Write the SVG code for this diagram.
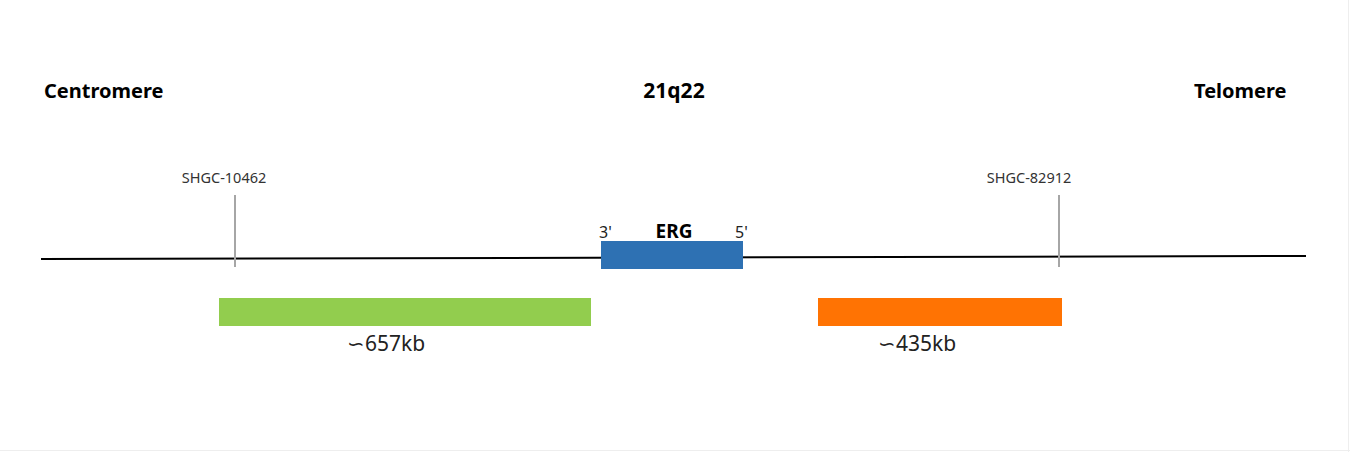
<svg xmlns="http://www.w3.org/2000/svg" width="1350" height="452" viewBox="0 0 1350 452">
<style>
.t{font-family:"Noto Sans","Open Sans",sans-serif;fill:#000}
.h{font-size:20px;font-weight:bold}
.m{font-size:14.5px;fill:#333}
.p{font-size:16px;fill:#222}
.k{font-size:21px;fill:#222}
.tick{stroke:#a6a6a6;stroke-width:2}
</style>
<rect width="1350" height="452" fill="#fff"/>
<line x1="1348.5" y1="0" x2="1348.5" y2="452" stroke="#eeeeee" stroke-width="1"/>
<line x1="0" y1="450.5" x2="1350" y2="450.5" stroke="#eeeeee" stroke-width="1"/>
<g id="labels">
<text class="t h" x="44" y="98">Centromere</text>
<text class="t h" x="674" y="98" text-anchor="middle" style="font-size:21px">21q22</text>
<text class="t h" x="1194" y="98">Telomere</text>
</g>
<g id="connectors">
<line x1="41" y1="259" x2="1306" y2="256" stroke="#000" stroke-width="2"/>
<line class="tick" x1="235" y1="195" x2="235" y2="267"/>
<line class="tick" x1="1059" y1="195" x2="1059" y2="267"/>
</g>
<g id="marker-SHGC-10462">
<text class="t m" x="224" y="183" text-anchor="middle">SHGC-10462</text>
</g>
<g id="marker-SHGC-82912">
<text class="t m" x="1029" y="183" text-anchor="middle">SHGC-82912</text>
</g>
<g id="ERG">
<rect x="601" y="241" width="142" height="28" fill="#2E71B3"/>
<text class="t p" x="599" y="238">3'</text>
<text class="t h" x="674" y="238" text-anchor="middle" style="font-size:19px">ERG</text>
<text class="t p" x="735" y="238">5'</text>
</g>
<g id="probe-657kb">
<rect x="219" y="298" width="372" height="28" fill="#92CD4E"/>
<text class="t k" x="347" y="351">∽657kb</text>
</g>
<g id="probe-435kb">
<rect x="818" y="298" width="244" height="28" fill="#FF7303"/>
<text class="t k" x="878" y="351">∽435kb</text>
</g>
</svg>
